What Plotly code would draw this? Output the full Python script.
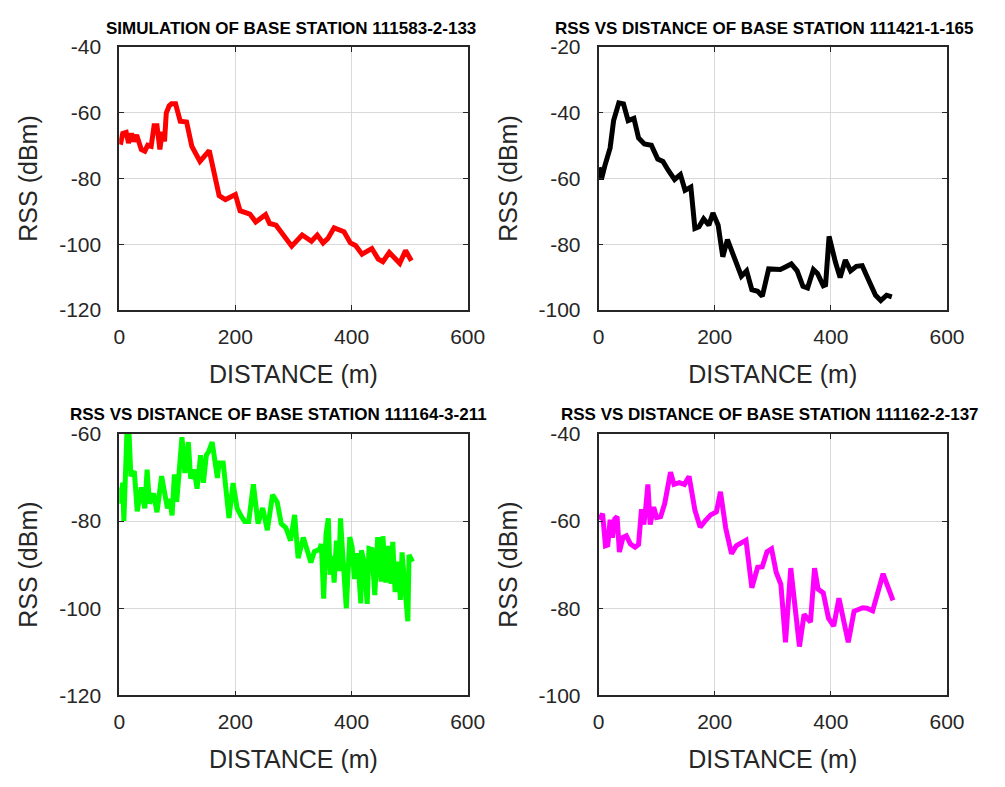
import plotly.graph_objects as go

# ---- measured RSS along the drive route, one series per base station ----
dist_111583 = [2, 6, 12, 16, 21, 25, 30, 38, 44, 49, 55, 60, 65, 70, 74, 78, 81, 86, 90, 97,
               105, 116, 125, 139, 155, 172, 183, 200, 208, 225, 235, 252, 259, 270, 297, 315,
               331, 341, 351, 359, 370, 387, 398, 407, 418, 435, 446, 454, 465, 483, 493, 503]
rss_111583 = [-69.7, -66.3, -66.0, -69.2, -66.3, -68.7, -66.8, -71.2, -71.7, -69.9, -70.2, -64.0,
              -64.0, -71.2, -65.8, -68.7, -60.1, -57.9, -57.3, -57.3, -62.6, -62.8, -70.2, -74.8,
              -71.5, -85.2, -86.4, -84.9, -89.8, -90.8, -93.2, -91.0, -93.7, -94.2, -100.6, -97.2,
              -99.1, -97.2, -99.6, -98.3, -95.0, -96.2, -99.6, -100.4, -103.0, -101.3, -104.5,
              -105.3, -102.5, -105.8, -101.9, -105.0]

dist_111421 = [1, 5, 11, 20, 26, 35, 43, 51, 61, 69, 79, 91, 102, 111, 120, 131, 141, 149, 159,
               166, 173, 181, 190, 197, 206, 214, 222, 234, 246, 255, 264, 274, 282, 293, 313,
               321, 332, 342, 352, 360, 370, 377, 387, 391, 397, 408, 416, 425, 434, 444, 454,
               465, 477, 486, 496, 505]
rss_111421 = [-56.6, -60.3, -56.1, -50.7, -42.4, -37.0, -37.3, -42.4, -41.7, -47.7, -49.5, -49.9,
              -54.1, -54.8, -57.5, -60.3, -58.8, -63.6, -62.6, -75.2, -74.7, -72.3, -74.2, -70.5,
              -74.2, -83.8, -78.6, -84.5, -89.7, -88.1, -93.8, -94.3, -95.8, -87.5, -87.7, -87.0,
              -86.0, -88.1, -92.8, -93.3, -87.7, -88.9, -92.6, -92.3, -77.6, -85.5, -90.1, -84.8,
              -88.1, -86.7, -86.5, -90.9, -95.5, -97.1, -95.5, -96.0]

dist_111164 = [1, 3, 6, 8, 13, 17, 20, 26, 31, 38, 44, 48, 52, 59, 65, 73, 83, 87, 91, 95, 99,
               108, 113, 119, 123, 129, 134, 140, 145, 150, 154, 160, 169, 172, 179, 189, 196,
               203, 210, 216, 223, 231, 239, 247, 255, 264, 272, 279, 287, 295, 302, 308, 317,
               330, 336, 345, 348, 352, 356, 360, 363, 367, 370, 374, 378, 381, 384, 387, 391,
               397, 401, 405, 410, 416, 417, 421, 427, 430, 435, 440, 445, 451, 454, 459, 464,
               468, 471, 475, 481, 484, 487, 492, 497, 499, 505]
rss_111164 = [-72.3, -76.0, -71.2, -80.0, -60.4, -60.1, -69.7, -68.6, -77.8, -72.3, -77.1, -68.2,
              -76.0, -73.7, -78.0, -69.7, -77.1, -74.9, -78.7, -69.3, -75.6, -60.8, -69.0, -61.9,
              -70.3, -68.2, -72.6, -64.9, -71.2, -64.9, -64.1, -61.9, -70.1, -66.7, -66.7, -79.3,
              -71.3, -77.1, -78.9, -80.1, -80.1, -71.6, -80.6, -77.0, -82.1, -74.0, -75.7, -80.6,
              -81.6, -84.5, -78.6, -88.5, -83.8, -89.5, -87.0, -86.5, -85.3, -97.8, -83.1, -79.4,
              -92.3, -88.0, -94.1, -84.5, -91.5, -79.4, -86.0, -91.6, -100.0, -83.7, -86.0, -93.3,
              -87.4, -98.9, -86.7, -89.0, -99.0, -86.3, -86.5, -97.0, -83.7, -93.9, -83.5, -94.1,
              -85.7, -94.4, -84.8, -96.3, -89.3, -98.1, -87.2, -95.5, -103.0, -87.8, -89.3]

dist_111162 = [2, 7, 12, 16, 20, 24, 28, 32, 36, 42, 48, 55, 63, 69, 74, 78, 81, 85, 89, 95,
               100, 107, 114, 124, 130, 139, 148, 156, 166, 175, 183, 193, 203, 210, 219, 229,
               237, 254, 264, 274, 282, 290, 298, 306, 314, 322, 331, 346, 354, 365, 372, 378,
               387, 396, 405, 414, 430, 440, 455, 462, 472, 490, 507]
rss_111162 = [-59.7, -58.3, -65.7, -65.5, -59.7, -63.8, -59.5, -59.0, -67.1, -63.8, -63.4, -65.3,
              -66.0, -65.4, -57.3, -60.8, -57.5, -51.6, -60.8, -56.8, -59.2, -59.0, -56.0, -48.8,
              -51.6, -51.2, -51.6, -49.8, -57.5, -61.4, -60.1, -58.6, -57.9, -53.3, -61.6, -67.5,
              -65.7, -64.4, -75.3, -70.6, -70.5, -67.1, -66.4, -71.8, -74.5, -87.8, -70.8, -88.8,
              -81.4, -83.2, -70.8, -75.6, -76.5, -82.3, -84.1, -77.7, -87.8, -80.7, -79.9, -80.0,
              -80.6, -72.1, -78.2]

titles = ["SIMULATION OF BASE STATION 111583-2-133",
          "RSS VS DISTANCE OF BASE STATION 111421-1-165",
          "RSS VS DISTANCE OF BASE STATION 111164-3-211",
          "RSS VS DISTANCE OF BASE STATION 111162-2-137"]
colors = ["#ff0000", "#000000", "#00ff00", "#ff00ff"]
y_ranges = [(-120, -40), (-100, -20), (-120, -60), (-100, -40)]
x_ticks = [0, 200, 400, 600]

series = [(dist_111583, rss_111583), (dist_111421, rss_111421),
          (dist_111164, rss_111164), (dist_111162, rss_111162)]

W, H = 1005, 787
# panel boxes in pixels: (left, right, top, bottom)
boxes = [(116, 473, 36, 307), (607, 964, 36, 307),
         (116, 473, 434.5, 704), (607, 964, 434.5, 704)]
title_centers = [(292, 17), (777, 17), (279, 415), (783, 415)]

AX_COLOR = "#262626"
FONT = "Liberation Sans, Arial, sans-serif"

fig = go.Figure()
layout = dict(width=W, height=H, margin=dict(l=0, r=0, t=0, b=0),
              paper_bgcolor="white", plot_bgcolor="white", showlegend=False,
              annotations=[])

for i, ((xs, ys), col, (y0, y1), box) in enumerate(zip(series, colors, y_ranges, boxes)):
    n = "" if i == 0 else str(i + 1)
    fig.add_trace(go.Scatter(x=xs, y=ys, mode="lines",
                             line=dict(color=col, width=5, shape="linear"),
                             xaxis="x" + n, yaxis="y" + n, hoverinfo="x+y"))
    l, r, t, b = box
    common = dict(showline=True, linecolor=AX_COLOR, linewidth=1.6, mirror="ticks",
                  ticks="inside", ticklen=5, tickwidth=1.2, tickcolor=AX_COLOR,
                  showgrid=True, gridcolor="#d9d9d9", gridwidth=1, zeroline=False,
                  tickfont=dict(family=FONT, size=21, color=AX_COLOR))
    y_vals = list(range(y0, y1 + 1, 20))
    layout["xaxis" + n] = dict(common, domain=[l / W, r / W], range=[0, 600],
                               tickvals=x_ticks, ticktext=[str(v) for v in x_ticks],
                               anchor="y" + n, ticklabelstandoff=7,
                               title=dict(text="DISTANCE (m)", standoff=18,
                                          font=dict(family=FONT, size=25, color=AX_COLOR)))
    layout["yaxis" + n] = dict(common, domain=[1 - b / H, 1 - t / H], range=[y0, y1],
                               tickvals=y_vals, ticktext=[str(v) for v in y_vals],
                               anchor="x" + n, ticklabelstandoff=12,
                               title=dict(text="RSS (dBm)", standoff=14,
                                          font=dict(family=FONT, size=25, color=AX_COLOR)))
    cx, cy = title_centers[i]
    layout["annotations"].append(dict(text="<b>" + titles[i] + "</b>", xref="paper", yref="paper",
                                      x=cx / W, y=1 - cy / H, xanchor="center", yanchor="middle",
                                      showarrow=False,
                                      font=dict(family=FONT, size=17, color="#000000")))

fig.update_layout(**layout)
fig.write_html("out.html")
